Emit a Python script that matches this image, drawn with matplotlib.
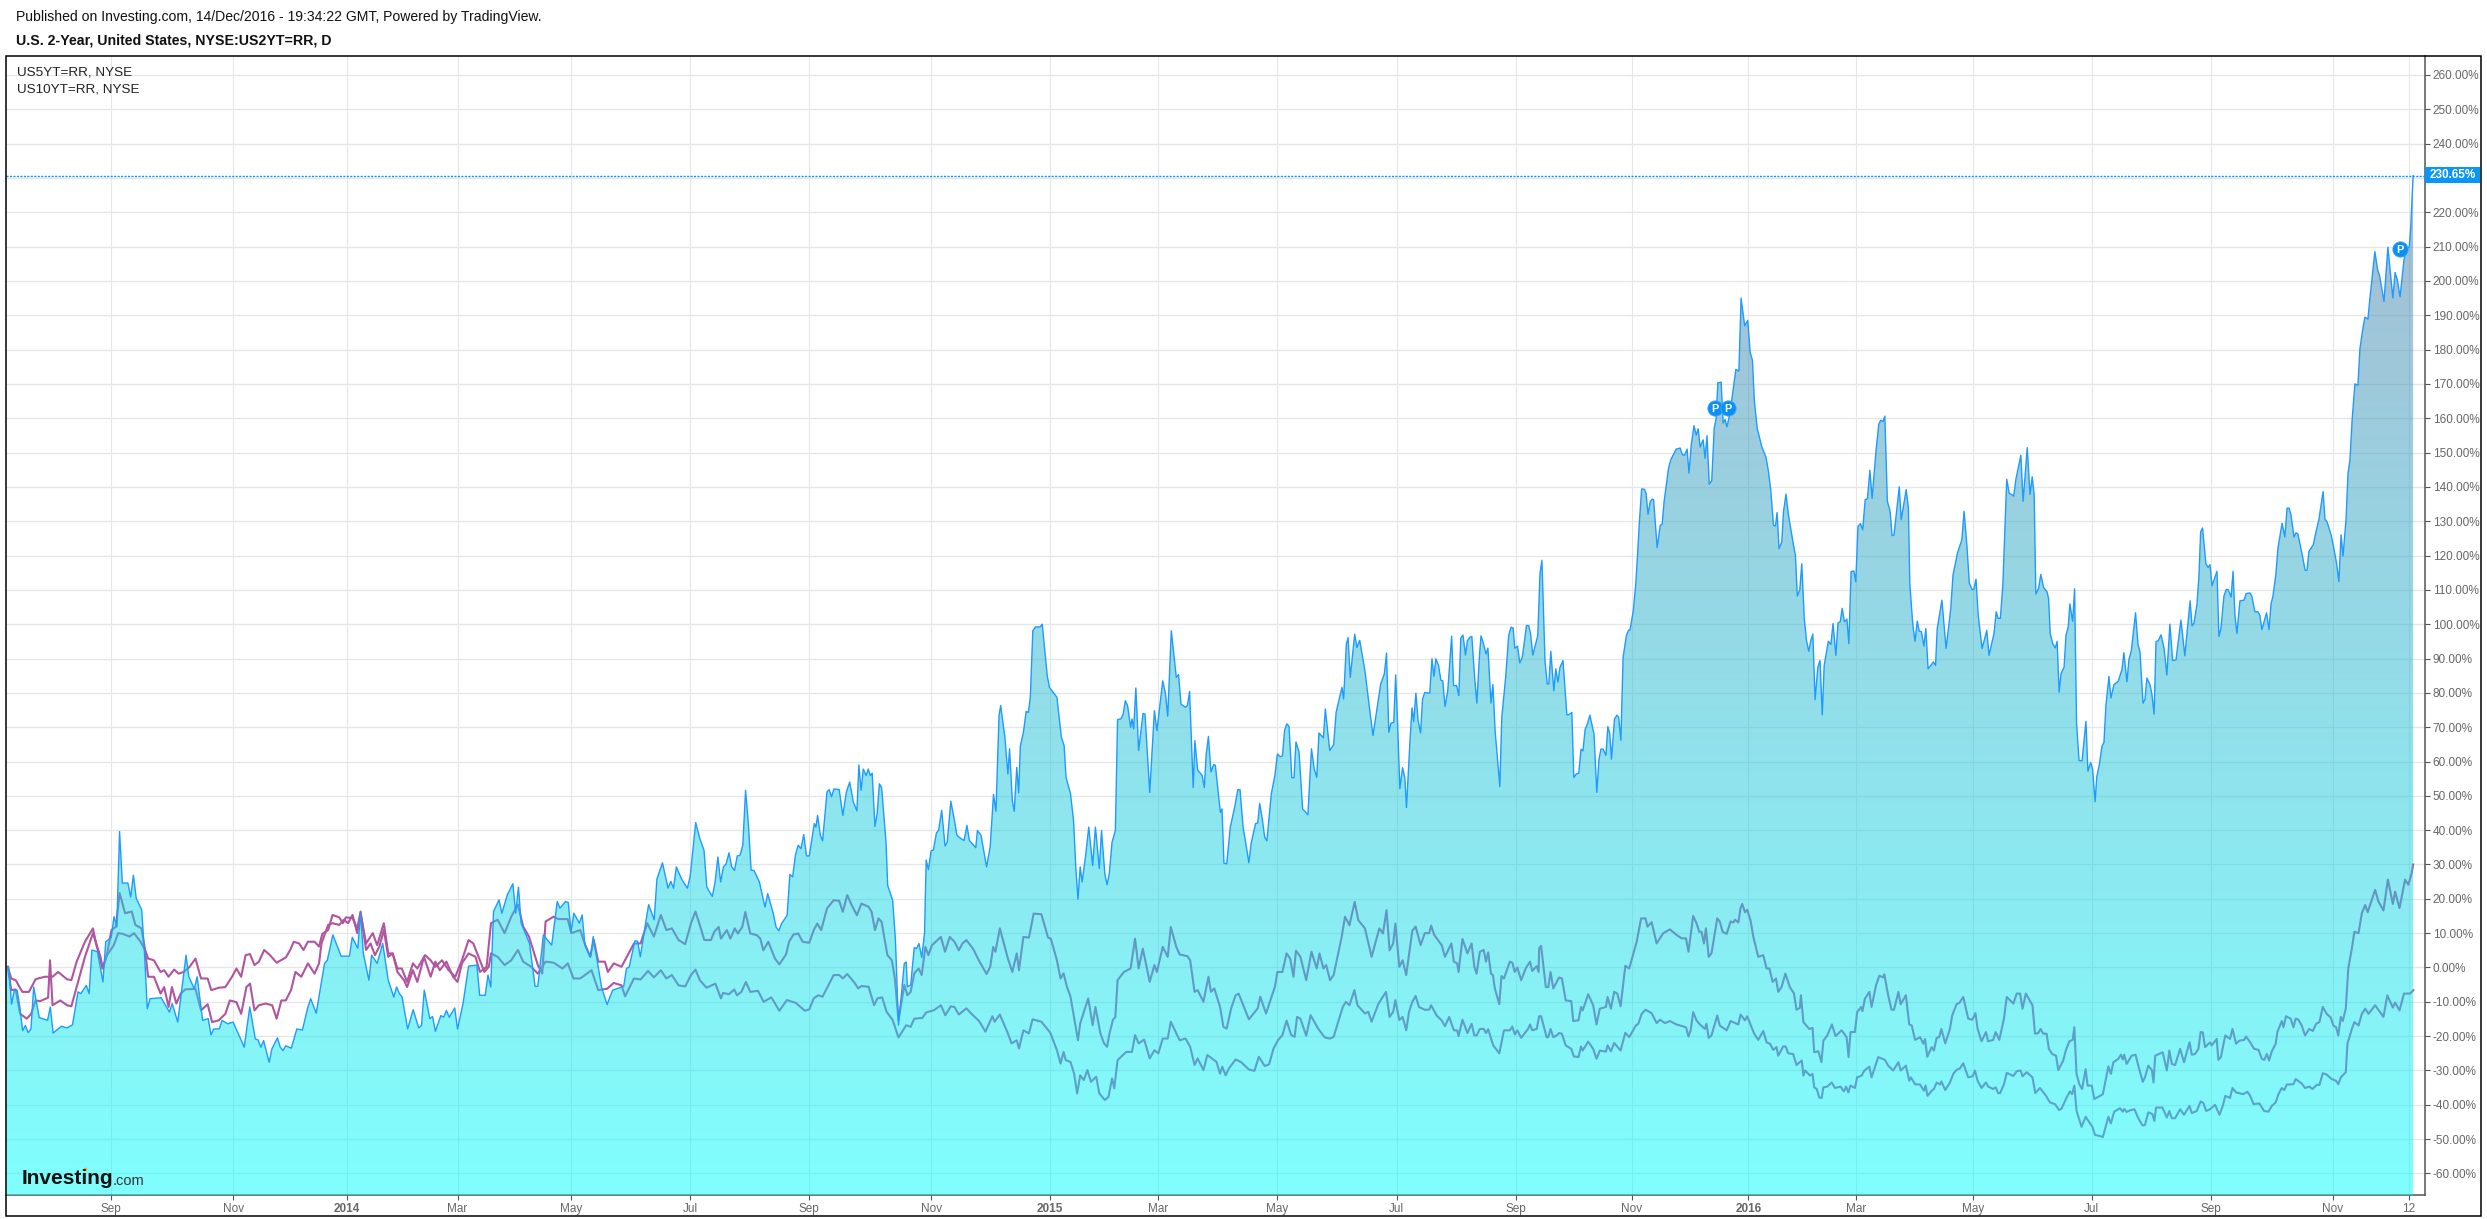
import numpy as np
import matplotlib
matplotlib.use("Agg")
import matplotlib.pyplot as plt
from matplotlib.patches import PathPatch, Rectangle
from matplotlib.path import Path
from matplotlib.lines import Line2D

plt.rcParams['font.family'] = ['Liberation Sans', 'DejaVu Sans']

# (trading bar number, % change)
us2y = [
    (1,0),(2,-10.7),(3,-6.6),(4,-6.6),(5,-11.5),(6,-18.4),(7,-16.9),(8,-19),(9,-17.9),(10,-5.7),(12,-14.6),(15,-15.4),
    (16,-11.5),(17,-19.1),(20,-17.1),(22,-17.6),(24,-16.7),(26,-7.1),(27,-7.6),(29,-5.2),(30,-7.6),(31,5.1),(33,4.6),
    (35,-4.2),(36,7.5),(38,8.8),(39,14.8),(40,11.9),(41,39.6),(42,24.6),(44,24.6),(45,20.5),(46,26.9),(47,20.2),(49,16.8),
    (50,4.1),(51,-12),(52,-9.1),(56,-8.8),(59,-13),(60,-10.5),(62,-15.9),(65,3.6),(66,-2.7),(68,-6.2),(69,-2.7),(71,-15.4),
    (73,-14.9),(74,-19.6),(75,-17.9),(77,-17.9),(78,-15.4),(80,-16.4),(82,-15.9),(86,-23.2),(88,-11.5),(90,-20.8),(91,-21.1),
    (92,-23.2),(93,-21.3),(95,-27.6),(96,-23.7),(98,-20.5),(99,-23.2),(100,-24.2),(101,-22.8),(103,-23.5),(105,-17.9),
    (107,-18.2),(109,-11.5),(110,-9.1),(112,-13.3),(115,1.2),(116,2.1),(118,9.5),(121,3.3),(124,3.3),(125,8.8),(127,5.6),
    (128,15.8),(129,4.1),(131,-3.7),(132,3.6),(134,1.2),(136,7),(138,-3.7),(140,-8.6),(141,-5.7),(142,-7.6),(143,-8.6),
    (145,-17.9),(147,-12.3),(149,-17.6),(150,-16.9),(151,-6.6),(153,-14.9),(154,-14.3),(155,-18.6),(157,-14),(158,-14.5),
    (159,-12.5),(160,-14.5),(162,-11.8),(163,-17.9),(165,-10.5),(167,0.4),(170,0.7),(171,-8.1),(173,-8.1),(174,-2.2),
    (175,-5.7),(176,16.3),(178,19.7),(179,15.8),(181,21.2),(183,24.4),(184,15.8),(185,23.4),(186,12.9),(189,7),(191,-5.5),
    (192,-5.5),(194,9.5),(197,6.5),(199,19.2),(200,17.3),(202,19.2),(203,18.9),(204,10.4),(205,15.8),(207,12.9),(208,15.3),
    (209,6.5),(211,3.1),(212,9),(215,-5.7),(217,-10.8),(219,-6.6),(223,-5.5),(224,-0.3),(225,0.2),(227,7.7),(228,7.7),
    (229,3.1),(231,13.4),(232,18.3),(234,13.9),(235,25.8),(237,30.5),(239,23.1),(240,25.1),(241,23.1),(242,29.3),(244,25.6),
    (246,23.1),(247,26.6),(249,42.2),(250.5,37.5),(252,34.1),(253,23.4),(255,20.7),(256,24.9),(257,32.2),(258,24.9),
    (259,29.3),(260,30.2),(261,33.4),(262,29.3),(263,28.3),(264,32.5),(265,32.7),(266,35.6),(267,51.6),(268,41.9),(269,28.3),
    (270,28.3),(272,24.9),(274,17.6),(275,21.5),(277,15.7),(278,11.8),(279,10.7),(280,12.8),(282,15.2),(283,27.1),(284,26.4),
    (285,32.7),(286,35.6),(287,34.6),(288,38.7),(289,32.5),(290,32.5),(291.8,41.9),(292.4,40.9),(293,44.3),(294,38.5),
    (294.8,36.9),(296.4,51.2),(297.2,51.8),(298,49.7),(298.9,52),(300.8,51.8),(302.1,44.3),(303.4,51.2),(304.6,54),(305.9,48.2),
    (307.2,45.6),(307.9,59),(308.7,51.6),(309.5,57.8),(310.5,55.9),(311.3,57.8),(312,55.9),(312.7,56.6),(313.7,41.1),(314.5,44.8),
    (315.3,53.5),(316.1,52.5),(317.7,36.5),(318.3,23.9),(320.1,19.6),(321.1,8),(322.2,-16.8),(324.3,1.2),(325,1.6),(325.4,-5.6),
    (326.6,-5.1),(327.9,5.8),(328.7,5.5),(329.6,7),(330.6,2.9),(331.6,9.9),(332.2,31.3),(333,28.5),(334,34),(334.8,34.2),
    (335.9,39.2),(336.7,40),(337.8,45.8),(339,35.4),(339.8,36.5),(341.1,48.4),(342.4,42.8),(343.3,38.5),(344.8,37.5),(345.9,37),
    (346.9,41.4),(347.8,37),(349.3,35.6),(350.1,34.9),(350.7,39.9),(352,38.5),(354,29.3),(355.3,35.1),(356.5,50.4),(357.4,45.5),
    (358.5,73.4),(359.1,76.3),(360.6,67.1),(361.7,56.4),(362.3,63.7),(363.3,48.6),(364,45.5),(364.9,58.3),(365.6,50.9),(366.2,64.6),
    (367.3,68.5),(368.3,74.6),(369.1,74.3),(369.8,78.7),(370.7,98.1),(371.7,99.2),(373.3,99.2),(374.1,100),(375.9,85),(376.7,81.6),
    (377.8,80.4),(379.4,78.7),(381,67.1),(382,64.6),(382.7,55.4),(384.3,50.6),(385.4,42.8),(386.2,29.3),(387,19.9),(387.8,29.3),
    (388.5,24.9),(389.7,32.2),(390.9,40.9),(392.3,29.7),(393.3,40.9),(394.7,28.8),(395.5,39.9),(396.7,27.3),(397.5,24.1),(398.3,27.3),
    (399.3,36.5),(400.5,39.9),(401.3,72.2),(402.5,72.4),(403.3,73.8),(404.1,77.7),(404.9,76.3),(406,70),(406.5,72.4),(407.1,69.5),
    (407.9,81.4),(408.9,63.2),(410.5,74),(411.2,73.8),(412.9,51),(414.6,74.8),(415.5,69),(417.6,83.5),(418.6,79.7),(419.4,73.2),
    (420.7,98.1),(422.5,84.5),(423.3,85.3),(424.2,76.7),(425.8,75.8),(426.5,76.3),(427.3,80.4),(428.6,52.4),(429.2,66.1),(430.2,57.5),
    (431.8,56),(432.6,52.4),(433.3,62.2),(434.1,67.3),(435,57),(436,59.1),(436.6,58.9),(437.8,49.7),(438.4,45.2),(439,46.2),(439.7,30.4),
    (440.7,30.2),(442,40.9),(443.6,46.8),(444.7,51.8),(445.5,51.8),(446.6,40.9),(447.8,35.1),(448.7,30.5),(449.5,36.1),(451.1,41.9),
    (451.9,42.1),(452.6,47.8),(453.6,42.9),(454.4,38),(455.2,36.9),(456.8,50.6),(458.1,56),(459,62.2),(460,61.4),(460.8,61.6),(461.6,69.1),
    (462.4,71),(463.2,70.2),(464.2,55.3),(465,55.3),(465.7,65.7),(466.8,62.8),(468.1,46.2),(470,44.5),(471.3,63.7),(472.3,57.8),(473.2,55.4),
    (474,68.3),(475.6,66.9),(476.3,75.3),(477.9,63.2),(479.3,64.9),(480.2,74.3),(482.3,81.6),(482.9,78.2),(483.9,94.2),(484.5,96.1),
    (485.3,84.5),(486.9,97.1),(487.7,93.2),(488.7,95.3),(490.6,86.4),(492.2,75.8),(493.5,67.6),(494.7,74),(496.3,82.6),(497.6,85.5),
    (498.4,91.6),(499.2,68.5),(500,71.2),(501,71.4),(501.7,85.2),(502.4,70.9),(503.2,52.1),(504.2,58.2),(505,55.3),(505.6,46.6),(506.8,65.1),
    (507.6,75.6),(508.2,71.6),(509,79.9),(509.8,71.9),(510.7,68.3),(511.4,78.2),(512.2,80.1),(514,79.9),(514.8,89.9),(515.5,84.8),(516.2,89.9),
    (517.2,87.9),(518,83.7),(518.7,83.5),(519.5,76),(520.5,80.6),(521.9,96.5),(522.6,82.1),(523.7,82.1),(524.5,79.2),(525.2,96),(526,96.8),
    (526.9,91),(527.6,95.2),(528.5,96.2),(529.2,96.4),(530.2,84.5),(531,77),(531.9,90.3),(532.5,96.6),(533.4,94.3),(534.3,91.3),(535,93),
    (536.1,77),(536.8,82.4),(537.6,68.9),(538.4,61.2),(539.3,52.7),(540,72.8),(541.4,84.5),(542.5,96.7),(543.3,99.1),(544.1,98.9),(544.7,93),
    (545.7,93.6),(546.5,88.7),(547.4,90.3),(548.3,95.7),(548.9,99.6),(549.7,99.6),(550.4,97.2),(551.2,91),(553,96.7),(553.8,114.7),(554.5,118.6),
    (555.6,89.4),(556.4,82.6),(557,82.6),(557.7,92.1),(558.8,80.6),(559.5,87),(560.3,83.1),(561,87.4),(562.1,89.4),(563.5,73.6),(564.1,73.6),
    (565.3,74.3),(566,55.3),(566.8,56.3),(567.8,56.6),(568.6,63.6),(569.3,63.1),(570.1,69.4),(570.9,70.9),(571.8,73.5),(573.3,68),(574.3,51),
    (575.1,60.7),(575.8,63.6),(576.6,63.6),(577.6,61.8),(578.3,70.2),(579,68),(579.6,60.7),(580.7,72.4),(581.6,73.5),(582.2,72.9),(583,66.2),
    (583.8,90.4),(585,96.7),(585.8,98.3),(586.3,98.3),(587.5,104),(588.4,112),(589,120),(589.7,130),(590.5,139.4),(591.5,139.3),(592.1,138.1),
    (592.8,132),(593.6,135.7),(594.2,136.4),(594.8,136.3),(596.1,122.3),(597.2,128.8),(597.9,129.1),(598.6,135.7),(600.2,145.4),(601,147.9),
    (603,151),(604.4,151.3),(605.2,149.4),(606,149.2),(606.9,151),(607.6,144),(608.4,152.2),(609.4,157.8),(610.2,155.1),(610.9,156.9),
    (611.6,151.6),(612.7,153.7),(613.4,148.3),(614.1,154.9),(614.9,140.8),(615.8,141.8),(616.7,157.1),(617.4,160),(618,170.3),(619.2,170.5),
    (619.9,158.6),(620.6,159.6),(621.3,157.5),(622.4,161.5),(623.3,166.9),(624.5,174.2),(625.6,173.7),(626.4,195),(627.7,186.9),(628.8,188.5),
    (629.7,179.1),(630.5,176.9),(631.2,164.9),(632.2,157.1),(633.9,151.6),(635.4,148.6),(636.3,144.4),(637.1,139.1),(638.1,128.8),(638.8,128.6),
    (639.4,132.5),(640.1,122),(641.1,124),(641.7,132.7),(642.6,137.9),(643.5,131.8),(644.5,126.9),(645.3,123.1),(646,120.2),(646.7,108.2),
    (647.6,110),(648.3,117.6),(649.2,101.7),(650,95.3),(650.8,92.1),(651.6,95.3),(652.3,97.1),(653.1,78),(654.1,87.5),(654.9,89.4),(655.7,73.6),
    (656.4,88),(657.9,95),(658.8,94.1),(659.6,100.2),(660.6,90.9),(661.4,100.4),(662.2,100.7),(662.9,104.6),(663.7,100.7),(664.6,101.5),
    (665.3,94.3),(666.1,115.3),(667.1,115.5),(667.8,112.4),(668.6,128.5),(669.5,129.3),(670.3,127.5),(671.2,136.3),(672,136.5),(672.9,144.8),
    (673.7,136.6),(675.1,150.4),(676.1,158.2),(676.8,159.4),(677.6,159),(678.3,160.6),(679.2,135.8),(680.2,132.9),(680.9,125.8),(681.6,126),
    (683.5,140),(684.2,130.4),(686,139.2),(686.8,133.8),(687.3,111.9),(688.4,99.7),(689.2,95),(690,100.9),(690.7,98),(691.5,97.8),(692.4,93.6),
    (693.1,98.7),(693.9,87),(694.9,88),(695.8,89),(696.6,88),(697.2,98.7),(698.9,107),(700.4,92.9),(702.1,104.6),(702.9,114.3),(704.5,120.7),
    (706.1,124.6),(706.9,132.9),(707.9,123.1),(708.8,111.9),(709.8,110.1),(710.4,110.1),(711.2,113.1),(712,102.6),(713.4,92.9),(715.1,98.2),
    (715.9,90.9),(717.7,97.3),(718.5,103.6),(719.2,101.7),(720,101.7),(720.9,111.4),(722.3,142.2),(723.2,138.1),(724,137.8),(724.8,137.3),
    (725.6,142.2),(727.4,149.2),(728.2,135.8),(729.7,151.4),(730.7,137.8),(731.5,142.9),(732.2,137.8),(732.8,108.8),(733.8,110.4),(734.6,114.5),
    (735.6,110.7),(736.8,109.5),(737.4,107.5),(738,97.3),(738.9,94.3),(739.8,93.1),(740.5,95),(741.2,80.2),(741.9,85.6),(743,87.5),(743.7,96.8),
    (744.5,99.2),(745.1,105.9),(746.1,100.8),(746.8,110.3),(747.5,71.2),(748.4,60.3),(749.5,60.2),(750.9,71.7),(751.6,57.2),(752.6,59.7),
    (753.3,57.8),(754.2,48.3),(754.8,55.5),(755.7,58.9),(756.7,64.5),(757.4,65.6),(758.1,76.2),(759.2,84.8),(759.9,78.5),(761,82.4),(762.5,83.3),
    (763.9,86.8),(764.6,91.7),(765.7,83.2),(766.4,89.6),(767.3,92.4),(768.8,103.3),(769.7,94.1),(770.4,91.9),(771.5,77),(772.2,78.1),(772.9,84.3),
    (774,82.4),(774.7,79.6),(775.5,73.8),(776.2,94.9),(777,95.2),(778,96.9),(779.1,93),(780.1,85.2),(781.2,100),(782.2,89.4),(783.4,89.6),
    (785.2,101.2),(786.6,90.8),(788.5,106.8),(789.2,99.5),(789.9,100.3),(791,105.9),(791.7,114.2),(792.3,126.9),(793,128),(794.2,117.6),(795,116.5),
    (795.7,117.3),(796.4,111.2),(798.2,115.4),(798.9,96.4),(799.6,98.6),(800.7,108.1),(801.5,110.1),(802.2,110.1),(803.3,107.9),(804,115.4),
    (804.7,102.5),(805.4,97.3),(806.5,106.8),(808,107),(808.7,108.9),(810.1,109.1),(810.8,108.1),(811.9,103.6),(813,103.6),(813.7,102.5),
    (814.4,98.4),(816.1,103.3),(817,98.4),(817.7,105.9),(818.4,108.1),(819.5,114.8),(820.2,122.1),(821.7,129.4),(822.7,125.4),(823.5,133.8),
    (824.2,133.8),(824.9,131.9),(826,125.4),(826.7,126.6),(827.4,126.3),(828.5,122.1),(829.2,119.3),(830,115.7),(830.7,115.7),(831.4,121.2),
    (833,123.2),(834,127.1),(835,130.5),(836.5,138.6),(837.2,130.5),(837.9,129.9),(839.4,126),(840.4,122.1),(841.4,117.6),(842.2,112.4),(843,126),
    (843.7,119.8),(844.8,130.5),(845.5,143.9),(846.2,147.8),(847,159.6),(848,170),(849.1,169.6),(849.8,180.2),(850.9,186.3),(851.6,189.4),
    (852.7,188.9),(853.4,194.8),(855.2,208.5),(856.2,203.2),(856.9,201.5),(858.5,194),(859.9,209.8),(861.7,195),(862.5,202.4),(863.3,200.4),
    (864.3,195.3),(865.7,206),(866.4,209.3),(867.6,209.9),(868.1,214.8),(869,230.65),
]

us5y = [
    (0.6,0.2),(1.9,-6.6),(3.5,-6.4),(5.1,-13.5),(7.5,-14.9),(9.1,-13.5),(10.7,-9.6),(12.3,-9.8),(15.2,-8.8),(15.9,2.1),(16.8,-11),(19.6,-9.6),
    (22,-11),(23.6,-11.3),(25.5,-5.7),(28.5,3.1),(31.4,10),(34.1,3.1),(34.9,-0.3),(36.5,4.1),(38.1,10.9),(39.7,11.9),(41,21.7),(43,15.8),(45.4,16.3),
    (46.7,12.4),(48.9,11.4),(50.2,5.1),(51.3,-2.7),(53.4,-2.7),(55.8,-7.6),(57.1,-5.7),(58.7,-11.5),(59.9,-5.7),(61.5,-10.5),(63.1,-7.6),(64.7,-6.4),
    (68.4,-6.2),(70.4,-12.5),(72.8,-10.7),(74.4,-15.9),(76.8,-15.4),(79.2,-13.5),(80.8,-9.6),(83.2,-10.1),(84.9,-13.5),(86.8,-5.7),(88.1,-4.7),
    (89.7,-12.5),(91.3,-11),(93.7,-10.5),(96.1,-11),(97.7,-14.9),(99.4,-9.6),(101,-9.6),(102.9,-6.6),(104.5,-1.3),(106.6,-2.7),(109,1.2),(111.4,-1.8),
    (113,1.2),(113.9,7),(116.3,12.4),(117.9,12.9),(120.3,12.4),(121.9,13.9),(123.5,12.9),(125.1,15.3),(126.8,10),(128,16.3),(130,5.1),(131.6,7),
    (133.2,3.6),(134.8,6.1),(136.4,10.9),(138,3.1),(139.6,4.1),(141.3,-1.3),(143.7,-3.7),(144.8,-5.7),(146.9,-0.8),(148.5,-4.2),(150.9,3.1),(153.3,-2.7),
    (155,1.7),(156.6,-0.8),(159,1.7),(161.4,-2.7),(163,-4.2),(164.6,1.2),(167,4.1),(169.5,3.1),(171.1,-1.3),(173.5,0.2),(175.1,12.9),(177.5,13.9),
    (180,10),(182.4,14.8),(184.8,18.3),(186.7,11.9),(188.8,9),(192,0.7),(193.6,-1.8),(194.8,13.4),(197.7,14.8),(199.3,14.1),(202.8,14.1),(204.1,10),
    (207.3,10.9),(208.9,7),(210.9,3.1),(212.2,8),(213.8,1.7),(216.2,1.7),(217.3,-1.3),(219.4,1.2),(222.2,0.2),(226.7,7),(229.1,7),(231.5,12.9),(233.9,9),
    (236.4,15.3),(238.4,10.9),(240.4,11.4),(242.8,8),(245.2,6.8),(247.3,12.9),(248.9,16.3),(250.5,12.3),(252.1,8),(254.5,8),(255.7,10.4),(257.3,11.8),
    (258.1,8.4),(260.2,10.9),(261.5,8.4),(263.1,11.4),(264.2,9.9),(265.8,11.8),(266.9,16.2),(268.7,9.9),(271.1,9.4),(272.3,8.4),(273.4,5),(275.2,7.5),
    (277.6,2.6),(279.2,0.9),(281.6,3.8),(282.7,7.5),(284.3,9.6),(286,9.9),(287.6,7.5),(290,7.2),(291.6,10.9),(292.9,12.8),(294.3,10.9),(296.4,17.2),
    (298.8,19.6),(300.8,19.4),(302.1,16.2),(303.7,21.1),(305.3,18.2),(307.2,15.2),(308.8,18.6),(311.4,17.7),(312.5,16.2),(313.7,10.9),(315,14.3),
    (316.1,13.3),(318.2,3.6),(319.8,2.1),(320.9,-3.2),(322.2,-15.3),(324.3,-5.1),(325.4,-8.1),(326.6,-7.1),(327.9,-1.7),(329.5,-0.3),(330.6,-2.2),
    (331.9,6),(333,3.6),(334.3,6.5),(337.5,8.9),(339,4.6),(340.7,8.9),(342.4,7.5),(344,5),(345.3,7),(346.7,8),(349.1,5.5),(351.2,2.1),(354,-1.9),
    (355.3,0.2),(356.4,6),(357.2,4.6),(358.8,11.4),(361.7,2.6),(363.3,-1.3),(364.9,4.1),(365.7,-0.8),(367.3,8.9),(369.3,8.7),(371,15.7),(373.8,15.5),
    (376.2,8.7),(377.2,8.4),(379.4,2.1),(380.7,-3.2),(381.8,-1.7),(383,-5.6),(384.3,-8.5),(387,-21.2),(387.8,-16.3),(390.7,-9),(392.3,-16.8),(393.3,-11.5),
    (395.1,-19.2),(396.4,-22.1),(397.5,-23.1),(398.4,-19.2),(399.6,-15.3),(400.5,-14.4),(401.3,-3.7),(403.6,-1.3),(406,-0.3),(407.6,8.4),(408.9,-0.3),
    (410.4,5.5),(412.9,-4.2),(414.6,0.7),(415.5,-1.3),(417.6,6),(419.4,3.1),(420.5,11.8),(422.5,6),(423.7,3.8),(426.5,3.3),(427.5,2.1),(429.1,-7.1),
    (430.2,-6.6),(432.3,-10),(434.1,-2.7),(435,-7.1),(436.2,-6.1),(438.3,-11.5),(439.5,-17.3),(440.7,-17.8),(442.3,-11.9),(443.9,-8.1),(445,-7.6),
    (448.7,-15.1),(451.9,-11.9),(452.8,-8.5),(454.9,-13.4),(458.1,-5.6),(459,-1.3),(460.8,-1.3),(462.3,4.1),(463.6,2.6),(464.8,-2.7),(465.7,4.9),(467.3,3.1),
    (469.4,-3.7),(471.3,4.6),(473.2,-0.3),(474.2,4.1),(475.6,-0.3),(476.6,0.7),(478,-3.7),(479.3,-2.2),(482.2,8.9),(483.4,14.8),(485,12.3),(486.9,19.1),
    (488.2,13.8),(490.6,11.4),(493,3.1),(495.8,11.4),(497.1,9.9),(498.4,16.7),(499.5,5),(500.8,7),(501.6,12.8),(503,0.2),(504.2,2.1),(505.5,-2.2),
    (507.7,10.7),(508.9,11.9),(510.7,6.5),(512.2,10),(513.8,10),(514.5,12.2),(515.6,9.5),(518.3,6.5),(519.5,3.1),(521.8,7),(522.7,1.7),(523.9,1.2),
    (524.4,-1.3),(525.8,8.3),(527.6,4.1),(529.1,7),(530.1,0.2),(530.9,-1.8),(532.1,4.6),(533.5,5.1),(534.3,1.7),(535.1,4.4),(536.1,-1.8),(536.8,-2.2),
    (537.5,-6.1),(539.1,-10.7),(539.9,-2.5),(540.8,-3.2),(542.9,1.7),(543.8,1.4),(544.7,-1.3),(545.6,0),(547,-3.7),(548.6,-0.3),(550.2,1.7),(551,-1),
    (552.6,0.4),(553.3,-1.3),(553.5,5.6),(554.2,6.3),(555.9,-5.7),(556.8,-5.7),(557.6,-1.3),(558.6,-6.1),(560.7,-2.9),(561.7,-3.2),(563.1,-9.6),(565.1,-9.8),
    (565.8,-15.6),(567.7,-15.4),(568.6,-11.5),(569.2,-12.5),(571.2,-7.8),(573,-11),(574.2,-16.6),(575.4,-12),(577.6,-11.5),(578.2,-8.6),(579.4,-12),
    (580.6,-7.1),(581.7,-7.6),(582.9,-11.3),(584.6,0.5),(586,-0.3),(588.7,7.5),(590.3,14.3),(591.9,14.3),(592.6,11.9),(594.1,13.2),(595.9,7),(598.3,10),
    (600.7,11.1),(603.1,9.5),(604.9,8.5),(606.5,8.5),(607.4,4.6),(609.1,15),(610.3,12.9),(611.3,10.4),(612.1,10.4),(613,7),(613.7,11.4),(614.7,3.1),
    (615.7,4.1),(617.8,14.3),(618.7,13.4),(619.7,10.4),(621.2,9.8),(622.6,13.4),(623.6,13.1),(624.2,13.9),(625.4,13.1),(626.2,17.3),(626.8,18.5),(627.8,16.1),
    (628.6,16.8),(629.8,13.7),(630.8,9),(632.6,3.1),(634.4,3.6),(635.6,-0.3),(636.6,-0.3),(637.8,-4.2),(639,-3.2),(639.8,-7.1),(641,-5.7),(642.4,-1.8),
    (644,-5.7),(645.5,-7.6),(646.4,-12.3),(647.6,-11.8),(648,-8.1),(648.9,-15.9),(651,-17.9),(652.2,-17.6),(652.8,-24.7),(654.3,-24.4),(655.4,-27.6),
    (656.1,-21.3),(657.5,-19.8),(659.2,-16.6),(660.5,-20),(662.7,-18.3),(664.5,-20.3),(665.2,-26.1),(665.9,-18.8),(667.5,-18.8),(668.3,-13),(669.7,-11.5),
    (670.2,-12.7),(671.1,-9.1),(672.7,-7.1),(673.5,-11.5),(675.1,-5.2),(676.3,-2.4),(677.7,-2.9),(678.1,-2),(679.5,-8.1),(680.7,-12.3),(681.6,-12.3),
    (683.2,-7.1),(684,-10.7),(685.9,-8.1),(687.1,-16.6),(688,-16.9),(689.2,-21.1),(691,-20.3),(692.2,-22.2),(692.8,-20.8),(693.6,-26),(695.2,-23.2),
    (696,-24.2),(697,-20.5),(697.9,-20.3),(698.7,-17.9),(700.1,-22.1),(701.8,-17.9),(702.6,-14),(704.2,-10.7),(705.2,-10.3),(706.6,-8.6),(708.4,-14.9),
    (709.9,-15.2),(711,-13.3),(711.8,-17.9),(713.2,-21.5),(714.8,-18.8),(715.6,-21.5),(717.4,-21.1),(718.3,-18.8),(719.6,-21.1),(721.3,-14.9),(722.3,-8.6),
    (724.7,-10.5),(725.9,-7.6),(727.1,-7.6),(728,-12),(729.2,-7.6),(731.6,-11),(732.5,-19.3),(733.7,-19.1),(734.5,-17.9),(735.5,-19.3),(736.7,-19.3),
    (737.5,-23.7),(738.7,-25.2),(740.1,-25.7),(740.9,-29.9),(742.7,-27.1),(743.6,-24.2),(744.9,-21.5),(746.1,-21.1),(746.7,-17.4),(747.5,-31),(748.5,-34),
    (749.5,-35.4),(750.8,-29.6),(751.5,-34.4),(753,-34.4),(753.9,-38.3),(756,-37.4),(757,-36.9),(759,-28.8),(759.9,-31),(760.8,-27.6),(762.6,-26.6),
    (763.5,-25.4),(764.2,-26.8),(764.7,-25.4),(765.6,-28.1),(767.4,-25.7),(768.8,-25.4),(769.8,-28.6),(771.4,-33.3),(772.2,-32),(773.4,-28.6),(774.7,-29.9),
    (775.3,-33.5),(775.9,-25.7),(778.6,-24.7),(780.1,-30),(781,-24.2),(781.9,-28.1),(783.1,-28.4),(784.9,-23.7),(786.3,-27.6),(788.3,-21.8),(789.1,-25.4),
    (790.3,-25.2),(791.5,-23.7),(792.3,-18.8),(793.1,-18.9),(793.9,-23.2),(795.7,-21.8),(796.3,-22.7),(798.1,-20.8),(798.7,-26.9),(799.6,-26.1),(801.2,-19.8),
    (802.9,-20.8),(803.8,-17.9),(805.1,-22.2),(806.3,-21.3),(808,-21.1),(808.7,-20.1),(810.2,-21.8),(811.6,-23.7),(813.2,-24),(814.4,-26.6),(815.3,-26.9),
    (816.2,-25.2),(817,-27.1),(818,-24.4),(819.4,-22.2),(820,-18.8),(821.6,-15.6),(822.2,-17.4),(823.1,-14.2),(824.8,-14.9),(825.8,-17.4),(826.6,-14.9),
    (827.6,-15.2),(828.8,-16.9),(830,-19.8),(831.5,-17.9),(832.8,-18.5),(834,-16.4),(835.2,-15.9),(836.4,-11.5),(837.8,-13.5),(839.3,-14.6),(840.2,-16.9),
    (841.2,-17.4),(842,-19.8),(842.9,-14.4),(843.6,-15.6),(844.7,-12),(845.6,-0.3),(846.9,5.6),(847.8,10.4),(849.3,10),(850.5,15.8),(851.7,18.2),(852.6,16.1),
    (855.3,22.6),(856.5,19.2),(858.3,16.6),(859.9,25.6),(861.7,18.5),(862.5,22.1),(864.1,17.3),(866.1,25.6),(867.3,24.1),(868.5,27.5),(869,30),
]

us10y = [
    (0.6,0.2),(1.9,-3.2),(3.5,-3.7),(5.9,-7.1),(8.3,-7.1),(10.7,-3.4),(14,-2.7),(16.8,-2.7),(18.8,-1.3),(22,-3.4),(23.6,-3.7),(25.5,1.7),(28.5,7.5),(31.4,11.4),
    (32.5,7),(34.9,-0.3),(36.5,3.6),(38.9,6.5),(40.5,10),(42.1,9.8),(44.6,9),(46.2,10),(48.6,7.5),(50.2,5.1),(51.3,2.6),(53.4,2.1),(55.8,-1.3),(57.1,-0.8),
    (58.7,-2.7),(60.7,-0.6),(62.3,-1.8),(64.2,-1.3),(66.3,0.2),(68.4,2.6),(70.4,-3.2),(72.8,-3.2),(74.1,-6.6),(76.8,-5.9),(79.2,-5.7),(81.6,-2.7),(83.2,-0.3),
    (84.9,-2.7),(86.5,3.6),(88.1,3.9),(89.7,0.7),(91.3,1.7),(93.2,5.1),(95.3,3.6),(97.7,1.4),(101,2.9),(102.6,5.1),(103.9,7.5),(105.8,7),(107.4,5.1),(109,7.5),
    (111.4,7.5),(113,6.1),(114.2,9.8),(116.3,10.9),(117.9,15.3),(120.3,14.6),(121.6,12.9),(122.7,14.6),(125.1,14.4),(126.8,11.4),(128,15.8),(130,7),(132.4,10),
    (134,6.5),(136.4,12.9),(138,4.1),(139.6,4.1),(141.3,-0.3),(142.9,-0.3),(144.8,-4.2),(146.9,1.2),(148.5,-0.3),(151.3,3.6),(153.3,2.1),(155,0.2),(157.4,2.1),
    (159.8,-0.8),(162.2,-2.7),(164.6,2.1),(167,8),(168.7,7),(170.6,3.1),(172.7,-1.3),(174.3,0.2),(175.1,4.1),(177.5,3.1),(180,0.7),(182.4,2.1),(184.8,5.1),
    (186.7,1.7),(189.6,0.2),(192,-1.8),(194.8,1.7),(197.7,1.4),(200.9,-0.3),(202.8,1.2),(204.9,-3.2),(207.3,-3.2),(211.4,-0.8),(213.8,-6.6),(217,-6.2),(219.4,-4.5),
    (222.2,-5.2),(223.5,-8.4),(226.7,-3.2),(229.1,-3.5),(231.8,-1),(233.9,-2.9),(236.4,-0.8),(238.4,-3.2),(240.4,-2.2),(242.8,-5.2),(245.2,-5.5),(247.3,-2.2),
    (248.9,-0.6),(250.5,-3.7),(252.9,-5.9),(256.1,-4.7),(258.1,-9),(258.9,-7.4),(261,-7.8),(262.9,-6.4),(263.9,-8.1),(265.5,-7.1),(267.1,-4.2),(268.7,-7.1),
    (271.5,-6.8),(273.5,-10),(276.3,-8.7),(279.2,-12.6),(281.9,-9.5),(285.1,-10.3),(288.4,-12.6),(290,-12.2),(291.6,-9),(293.2,-8.1),(294.8,-8.5),(297.2,-4.7),
    (298.8,-2.2),(300.8,-2.2),(302.1,-3.2),(303.7,-1.9),(306.1,-4.2),(307.7,-6.1),(308.8,-5.4),(311.4,-5.6),(313.4,-11),(314.6,-9),(316.3,-8.7),(317.9,-12.9),
    (320.1,-15.3),(322.2,-20.4),(325,-16.8),(326.6,-17.3),(327.9,-14.9),(330.8,-14.7),(332.2,-13.1),(335.1,-12.4),(337.5,-11),(339.1,-13.9),(341.1,-11.3),
    (342.4,-11.5),(344,-13.7),(346.7,-11.9),(348.8,-13.7),(351.2,-15.5),(353.6,-18.7),(356.1,-14.2),(356.9,-15.8),(358.8,-13.7),(361.7,-19.2),(363,-22.1),
    (364.9,-21.2),(365.7,-23.6),(367.3,-18.3),(369.3,-19.2),(370.6,-15.1),(373.8,-15.8),(377,-19),(379.4,-24.1),(380.7,-28),(381.8,-24.6),(382.6,-27),(384.3,-27.5),
    (385.6,-30.9),(386.7,-36.7),(387.8,-31.4),(389.1,-32.8),(390.4,-29.9),(391.7,-33.3),(393.6,-31.8),(394.7,-36.7),(396.7,-38.6),(398,-37.7),(399.3,-32.3),
    (400.1,-35.2),(401.3,-27),(404.4,-24.6),(406.5,-24.6),(407.6,-19.7),(408.9,-22.1),(410.9,-21),(412.9,-26.5),(414.6,-24.1),(416,-25),(417.6,-20.7),(419.4,-20.7),
    (420.5,-15.8),(423.7,-21.2),(425.8,-20.7),(427.5,-23.1),(429.1,-28.4),(430.2,-26.5),(432.3,-29.9),(433.7,-25.5),(437,-27.5),(438.3,-30.9),(439.1,-28.9),
    (440.3,-31.4),(441.5,-29.4),(443.9,-26.8),(445.8,-27.5),(448.7,-29.7),(450.7,-30.1),(452.3,-26),(454.4,-28.7),(456,-28.2),(457.6,-23.6),(459.2,-21.2),(460.8,-19.7),
    (462.3,-15.5),(464,-19.7),(465.2,-20.2),(466.1,-14.4),(467.3,-14.9),(469.4,-19.9),(471,-13.9),(473.7,-17.8),(476.1,-20.4),(478,-20.7),(479.3,-20.2),(482.6,-11.5),
    (483.7,-10),(485,-11),(486.8,-6.6),(487.9,-11),(490.6,-13.4),(491.8,-12.9),(493,-15.8),(495.5,-10.5),(498.2,-7.1),(499.5,-14.4),(500.8,-12.9),(501.6,-9.5),
    (503,-15.3),(504.2,-14.4),(505.5,-18.3),(506.5,-13),(507.7,-10),(508.9,-8.3),(510.1,-11.5),(512.2,-12.3),(513.8,-12.3),(514.5,-11),(516.5,-14),(518.3,-15.4),
    (519.5,-17.1),(521,-14.4),(522.7,-18.3),(523.9,-18.3),(524.4,-20),(525.8,-15.2),(527.6,-19.1),(529.1,-16.4),(530.1,-19.8),(530.9,-19.8),(532.1,-17.9),(533.5,-17.9),
    (534.3,-19.1),(535.1,-18),(536.9,-22.7),(539.1,-25),(540.8,-18.3),(542.9,-18.3),(543.8,-17.2),(544.7,-19.5),(545.6,-18.3),(547,-20.5),(549.5,-17.9),(550.2,-16.6),
    (551,-18.3),(552.6,-17.9),(553.5,-14.2),(554.2,-14.2),(556.2,-20.3),(556.8,-20.3),(557.6,-17.9),(558.6,-20.3),(559.8,-19.8),(560.7,-19.1),(561.7,-19.3),(563.1,-22.7),
    (565.1,-23.7),(566,-25.9),(567.7,-26.1),(568.6,-23),(569.2,-24.2),(571.2,-21.6),(573,-23.7),(574.2,-26.6),(575.4,-24.2),(577.6,-24.5),(578.2,-22.7),(579.4,-24.4),
    (580.6,-22),(582.9,-24.2),(584.6,-19),(586,-20.3),(588.4,-16.9),(589.3,-16.4),(590.5,-13.5),(591.9,-12.3),(594.1,-13.3),(595.9,-16.2),(597.1,-15.2),(598.9,-16.2),
    (600.7,-15.6),(603.1,-16.6),(606.5,-17.4),(607.4,-20.1),(608.2,-18.3),(609.1,-13),(610.3,-15.4),(611.3,-16.4),(613.3,-17.9),(613.9,-16.4),(614.7,-20.5),(615.7,-19.8),
    (617.8,-14),(618.7,-16.9),(621.2,-18.3),(622.6,-15.6),(625.4,-16.6),(626.2,-13.7),(627.8,-15.4),(628.6,-14.2),(629.6,-16.2),(631,-19.1),(632.6,-21.1),(634.4,-18.5),
    (635.6,-21.8),(636.8,-22.2),(638,-24),(639.2,-23.2),(639.8,-25.7),(641.6,-23),(642.5,-23),(643.4,-25),(645.2,-25.2),(646.4,-28.4),(648.3,-27.1),(648.9,-31.5),
    (649.5,-30),(651.3,-31.5),(652.2,-31),(652.8,-34.9),(653.7,-35.4),(654.6,-37.9),(655.5,-38),(656.1,-34.9),(657.5,-34.7),(659.1,-33.5),(660.3,-35.1),(662.3,-34.7),
    (663.5,-36.1),(664.3,-34.7),(665.1,-36.4),(665.9,-34.4),(667.5,-35.1),(668.3,-32),(669.9,-31.5),(670.9,-30),(672.7,-28.9),(673.5,-32),(675.9,-26.1),(678.3,-26.9),
    (679.5,-28.6),(681.3,-30),(683.2,-27.6),(684,-30),(685.9,-28.6),(687.1,-33),(687.7,-32),(689.2,-34),(691,-34.1),(692.4,-35.9),(693,-34.4),(693.7,-37.4),(695.2,-35.9),
    (696,-35.4),(697,-33.5),(698.2,-34.1),(698.7,-33.2),(700.1,-35.7),(701.8,-33.5),(703,-31),(704.2,-29.8),(705.4,-29.4),(706.6,-27.9),(708.4,-32),(710,-31.7),(710.8,-30),
    (711.8,-33),(713.2,-35.1),(714.8,-33.5),(715.6,-34.7),(717.4,-35.4),(718.3,-34.9),(719.2,-36.6),(719.9,-36.6),(721.3,-34),(722.3,-30.7),(724.7,-31.6),(725.9,-30.2),
    (727.3,-30),(728,-31.7),(729.5,-30.5),(731.6,-32),(732.6,-36.6),(734.3,-35.1),(736.5,-37.4),(737.9,-39.3),(739.7,-39.8),(741.2,-41.5),(742.1,-41.1),(743.9,-37.9),
    (745.1,-36.1),(745.9,-36.9),(746.7,-34.4),(747.5,-41.8),(749.3,-46.4),(750.8,-43.5),(753.2,-46.4),(754.2,-48.8),(756,-49.1),(757,-49.4),(759,-43.5),(759.9,-45.4),
    (761.1,-42),(763.2,-41),(764.2,-42),(764.7,-41.2),(765.6,-42.1),(766.8,-41.6),(768.4,-41.3),(769.8,-43.9),(771.3,-46),(772.2,-45.9),(773.4,-42.2),(774.9,-42.7),
    (775.6,-44.7),(776.2,-40.8),(778.5,-40.8),(780.1,-43.7),(781,-41.8),(781.9,-43.9),(783.1,-43.9),(784.9,-41.3),(786.3,-42.9),(788.3,-40.3),(789.1,-42.4),(790.9,-41.8),
    (792.3,-39),(793.3,-39.5),(794.3,-41.8),(795.7,-41.3),(797.5,-40),(799.1,-42.9),(800.3,-40.3),(801.2,-37.4),(802.9,-38),(803.8,-35.1),(805.1,-36.4),(807.7,-36.9),
    (809.2,-36.2),(810.2,-37.4),(811.4,-39.8),(813.5,-39.6),(815.2,-41.8),(816.8,-42),(818,-40.3),(819.4,-39.3),(820.4,-36.9),(821.6,-35.1),(822.5,-35.7),(823.4,-34.1),
    (825.8,-34),(826.6,-32.5),(828.8,-33.8),(830,-35.1),(831.6,-34.7),(832.7,-35.4),(834.2,-34.2),(835.2,-34.2),(836.4,-30.8),(837.8,-31.2),(839.6,-32.5),(841.2,-33),
    (842,-34),(842.9,-32),(844.7,-30.5),(845.3,-22.2),(846.9,-17.9),(847.8,-15.9),(849.3,-16.9),(850.5,-13.5),(851.7,-12),(852.9,-13.5),(855.3,-11),(858.3,-14.4),
    (859.7,-8.1),(861.7,-11.7),(862.5,-10.2),(864.1,-12.5),(865.7,-7.6),(867.9,-7.6),(869.1,-6.6),
]

# month labels on the bar axis
tick_bars = [38, 82, 123, 163, 204, 247, 290, 334, 377, 416, 459, 502, 545, 587, 629, 668, 710, 753, 796, 840, 867.5]
tick_labels = ['Sep', 'Nov', '2014', 'Mar', 'May', 'Jul', 'Sep', 'Nov', '2015', 'Mar', 'May', 'Jul', 'Sep', 'Nov',
               '2016', 'Mar', 'May', 'Jul', 'Sep', 'Nov', '12']
y_ticks = list(range(-60, 270, 10))
pub_marks = [(617, 163), (621.5, 163), (864.3, 209.3)]
last_value = 230.65

W, H = 2487, 1219
LINE_BLUE = '#1e9bff'
PURPLE = '#b0559f'
GREY = '#666666'
x0, x1 = 0, 873.3
y0, y1 = -66.27, 265.5


def fx(px):
    return px / W


def fy(py):
    return 1 - py / H


fig = plt.figure(figsize=(W / 100, H / 100), dpi=100, facecolor='white')
ax = fig.add_axes([fx(6), fy(1195), fx(2425) - fx(6), fy(56) - fy(1195)])
ax.set_xlim(x0, x1)
ax.set_ylim(y0, y1)

# grid first, everything else sits on it
for y in y_ticks:
    ax.axhline(y, color='#e6e6e6', lw=0.9, zorder=1)
for x in tick_bars:
    ax.axvline(x, color='#e6e6e6', lw=0.8, zorder=1)

a5 = np.array(sorted(us5y))
a10 = np.array(sorted(us10y))
a2 = np.array(sorted(us2y))

# the yield lines sit under the area, that is why they go blue inside it
ax.plot(a5[:, 0], a5[:, 1], color=PURPLE, lw=1.5, zorder=2, solid_joinstyle='round')
ax.plot(a10[:, 0], a10[:, 1], color=PURPLE, lw=1.5, zorder=2, solid_joinstyle='round')

# gradient area: greyed steelblue to cyan, both half transparent
top = np.array([75, 120, 165]) / 255
bot = np.array([0, 255, 255]) / 255
t = np.linspace(0, 1, 512)[:, None]
grad = np.ones((512, 1, 4))
grad[:, 0, :3] = top * (1 - t) + bot * t
grad[:, 0, 3] = 0.5
verts = [(0, y0), (0, 0)] + [tuple(p) for p in a2] + [(a2[-1, 0], y0)]
poly = PathPatch(Path(verts + [verts[0]]), facecolor='none', edgecolor='none', transform=ax.transData)
ax.add_patch(poly)
im = ax.imshow(grad, extent=[x0, x1, y0, last_value], aspect='auto', origin='upper', zorder=3,
               interpolation='bilinear')
im.set_clip_path(poly)
ax.set_xlim(x0, x1)
ax.set_ylim(y0, y1)

ax.plot(a2[:, 0], a2[:, 1], color=LINE_BLUE, lw=1.0, zorder=4)
ax.axhline(last_value, color='#0a96f5', lw=1.0, ls=(0, (1.5, 1.0)), zorder=5)

for bx, by in pub_marks:
    ax.plot([bx], [by], 'o', ms=11, mfc='#0a8ff5', mec='#3aa6f5', mew=0.6, zorder=6)
    ax.text(bx, by - 0.3, 'P', color='white', fontsize=7.8, fontweight='bold', ha='center', va='center', zorder=7)

for side in ['top', 'left']:
    ax.spines[side].set_visible(False)
for side in ['right', 'bottom']:
    ax.spines[side].set_color('#555555')
    ax.spines[side].set_linewidth(1.1)

ax.yaxis.tick_right()
ax.set_yticks(y_ticks)
ax.set_yticklabels([f'{v:.2f}%' for v in y_ticks])
ax.set_xticks(tick_bars)
ax.set_xticklabels(tick_labels)
ax.tick_params(axis='y', length=3.6, width=0.8, color='#555555', labelcolor=GREY, labelsize=8.5, pad=2)
ax.tick_params(axis='x', length=3.6, width=0.8, color='#555555', labelcolor=GREY, labelsize=8.5, pad=2.5)
for lab in ax.get_xticklabels():
    if lab.get_text() in ('2014', '2015', '2016'):
        lab.set_fontweight('bold')

# outer frame
fig.add_artist(Rectangle((fx(6), fy(1216)), fx(2481) - fx(6), fy(56) - fy(1216), transform=fig.transFigure,
                         fill=False, edgecolor='black', lw=1.1))

# last price flag
fig.add_artist(Rectangle((fx(2425), fy(183)), fx(2480) - fx(2425), fy(167) - fy(183), transform=fig.transFigure,
                         facecolor='#0a96f5', edgecolor='none'))
fig.text(fx(2453), fy(175), f'{last_value:.2f}%', color='white', fontsize=8.5, fontweight='bold',
         ha='center', va='center')

# header and legend text
fig.text(fx(16), fy(17.5), 'Published on Investing.com, 14/Dec/2016 - 19:34:22 GMT, Powered by TradingView.',
         fontsize=10.05, color='#111111', ha='left', va='center')
fig.text(fx(16), fy(40.5), 'U.S. 2-Year, United States, NYSE:US2YT=RR, D', fontsize=10.2, fontweight='bold',
         color='#111111', ha='left', va='center')
fig.text(fx(17), fy(72.5), 'US5YT=RR, NYSE', fontsize=9.7, color='#222222', ha='left', va='center')
fig.text(fx(17), fy(90), 'US10YT=RR, NYSE', fontsize=9.7, color='#222222', ha='left', va='center')

# logo
fig.text(fx(22), fy(1179), 'Investing', fontsize=15, fontweight='bold', color='#111111', ha='left', va='center')
fig.text(fx(113), fy(1181), '.com', fontsize=10.5, color='#333333', ha='left', va='center')
fig.add_artist(Line2D([fx(84.5)], [fy(1168.5)], marker='o', ms=2.6, color='#f5a623', mec='none',
                      transform=fig.transFigure))

fig.savefig('out.png', dpi=100, facecolor='white')
